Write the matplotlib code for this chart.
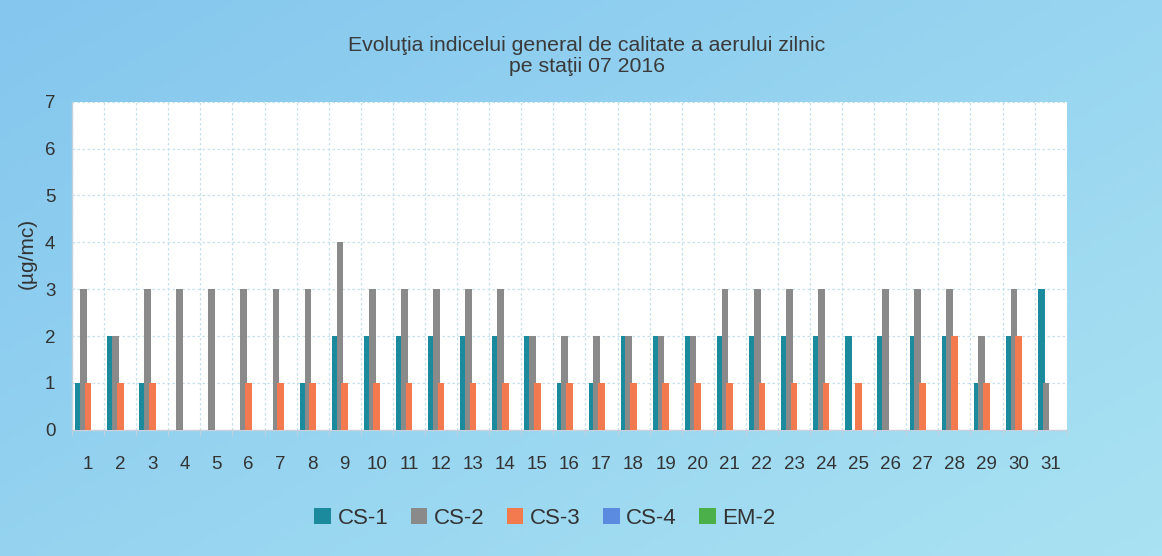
import numpy as np
import matplotlib.pyplot as plt
from matplotlib.colors import LinearSegmentedColormap

# ---- data ----
days = [str(d) for d in range(1, 32)]
cs1 = [1, 2, 1, 0, 0, 0, 0, 1, 2, 2, 2, 2, 2, 2, 2, 1, 1, 2, 2, 2, 2, 2, 2, 2, 2, 2, 2, 2, 1, 2, 3]
cs2 = [3, 2, 3, 3, 3, 3, 3, 3, 4, 3, 3, 3, 3, 3, 2, 2, 2, 2, 2, 2, 3, 3, 3, 3, 0, 3, 3, 3, 2, 3, 1]
cs3 = [1, 1, 1, 0, 0, 1, 1, 1, 1, 1, 1, 1, 1, 1, 1, 1, 1, 1, 1, 1, 1, 1, 1, 1, 1, 0, 1, 2, 1, 2, 0]
cs4 = [0] * 31
em2 = [0] * 31

series = ["CS-1", "CS-2", "CS-3", "CS-4", "EM-2"]
values = [cs1, cs2, cs3, cs4, em2]
colors = ["#1a8a9c", "#8a8a8a", "#f37a4e", "#5a8be0", "#4cb04a"]

plt.rcParams["font.family"] = ["Liberation Sans", "DejaVu Sans"]

fig = plt.figure(figsize=(11.62, 5.56), dpi=100)

# ---- light blue gradient background ----
bg = fig.add_axes([0, 0, 1, 1], zorder=-10)
bg.axis("off")
gx, gy = np.meshgrid(np.linspace(0, 1, 200), np.linspace(0, 1, 100))
grad = 0.55 * gx + 0.45 * gy
cmap = LinearSegmentedColormap.from_list("bgblue", ["#84c6ee", "#a9e2f2"])
bg.imshow(grad, cmap=cmap, aspect="auto", extent=[0, 1, 0, 1])

# ---- main axes ----
ax = fig.add_axes([0.062, 0.227, 0.856, 0.590])
ax.set_facecolor("white")

x = np.arange(len(days))
width = 0.21
step = 0.147
for i, (name, vals, col) in enumerate(zip(series, values, colors)):
    ax.bar(x + (i - 2) * step, vals, width=width, color=col, label=name, zorder=3)

ax.set_xlim(-0.5, len(days) - 0.5)
ax.set_ylim(0, 7)
ax.set_yticks(range(0, 8))
ax.set_xticks(x)
ax.set_xticklabels(days)
ax.set_xticks(np.arange(-0.5, len(days), 1), minor=True)

ax.grid(axis="y", which="major", color="#c6e0ee", linestyle=(0, (2, 2)), linewidth=0.9, zorder=0)
ax.grid(axis="x", which="minor", color="#c6e0ee", linestyle=(0, (2, 2)), linewidth=0.9, zorder=0)

ax.tick_params(axis="x", which="major", length=0, pad=19, labelsize=13.5, labelcolor="#333333")
ax.tick_params(axis="x", which="minor", length=4, color="#c8d0dc", direction="out")
ax.tick_params(axis="y", length=0, pad=12, labelsize=13.5, labelcolor="#333333")

for side, sp in ax.spines.items():
    sp.set_color("#c8d0dc")
    sp.set_linewidth(1.0)
ax.spines["top"].set_visible(False)
ax.spines["right"].set_visible(False)

# y label placed slightly above the axis centre, as in the original
fig.text(27 / 1162, 1 - 253 / 556, "(µg/mc)", rotation=90, ha="center", va="center",
         fontsize=15, color="#333333")

fig.text(0.505, 0.899, "Evoluţia indicelui general de calitate a aerului zilnic\npe staţii 07 2016",
         ha="center", va="center", fontsize=15.3, color="#3a3a3a", linespacing=1.1)

fig.legend(loc="center", bbox_to_anchor=(0.469, 0.068), ncol=5, frameon=False,
           fontsize=16, handlelength=0.75, handleheight=0.75, handletextpad=0.3,
           columnspacing=1.0, labelcolor="#333333")

fig.savefig("out.png", dpi=100)
plt.close(fig)
